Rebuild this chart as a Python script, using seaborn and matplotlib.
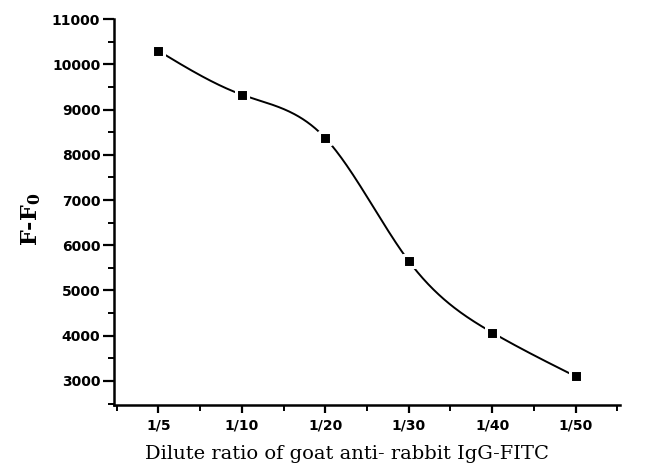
import numpy as np
import pandas as pd
import matplotlib
matplotlib.use("Agg")
import matplotlib.pyplot as plt
from matplotlib.ticker import MultipleLocator, FixedLocator
import seaborn as sns

# Dilution ratios and measured fluorescence difference
dilutions = ["1/5", "1/10", "1/20", "1/30", "1/40", "1/50"]
signal = [10300, 9330, 8370, 5650, 4070, 3100]


def natural_spline(x, y, n=400):
    """Natural cubic spline through (x, y), sampled on n points."""
    x = np.asarray(x, float)
    y = np.asarray(y, float)
    m = len(x)
    h = np.diff(x)
    A = np.zeros((m, m))
    b = np.zeros(m)
    A[0, 0] = A[-1, -1] = 1.0
    for i in range(1, m - 1):
        A[i, i - 1] = h[i - 1]
        A[i, i] = 2 * (h[i - 1] + h[i])
        A[i, i + 1] = h[i]
        b[i] = 6 * ((y[i + 1] - y[i]) / h[i] - (y[i] - y[i - 1]) / h[i - 1])
    M = np.linalg.solve(A, b)
    xs = np.linspace(x[0], x[-1], n)
    idx = np.clip(np.searchsorted(x, xs) - 1, 0, m - 2)
    x0, x1 = x[idx], x[idx + 1]
    hh = x1 - x0
    ys = (M[idx] * (x1 - xs) ** 3 / (6 * hh) + M[idx + 1] * (xs - x0) ** 3 / (6 * hh)
          + (y[idx] / hh - M[idx] * hh / 6) * (x1 - xs)
          + (y[idx + 1] / hh - M[idx + 1] * hh / 6) * (xs - x0))
    return xs, ys


pos = np.arange(len(dilutions))
xs, ys = natural_spline(pos, signal)
curve = pd.DataFrame({"x": xs, "y": ys})
points = pd.DataFrame({"x": pos, "y": signal})

sns.set_style("ticks")
fig = plt.figure(figsize=(6.56, 4.67), dpi=100)
ax = fig.add_axes([0.174, 0.133, 0.771, 0.826])

sns.lineplot(data=curve, x="x", y="y", ax=ax, color="black", linewidth=1.4)
sns.scatterplot(data=points, x="x", y="y", ax=ax, marker="s", s=75,
                color="black", edgecolor="white", linewidth=2.2, zorder=5)

ax.set_xlim(-0.53, 5.53)
ax.set_ylim(2470, 11000)
ax.xaxis.set_major_locator(FixedLocator(pos))
ax.xaxis.set_minor_locator(FixedLocator(np.arange(-0.5, 6.0, 1.0)))
ax.set_xticklabels(dilutions)
ax.yaxis.set_major_locator(MultipleLocator(1000))
ax.yaxis.set_minor_locator(MultipleLocator(500))

for side in ("top", "right"):
    ax.spines[side].set_visible(False)
for side in ("left", "bottom"):
    ax.spines[side].set_linewidth(1.8)
    ax.spines[side].set_color("black")

ax.tick_params(which="major", length=8, width=1.6, direction="out", color="black")
ax.tick_params(which="minor", length=4.5, width=1.4, direction="out", color="black")
ax.tick_params(axis="x", which="major", length=6, pad=4)
ax.tick_params(axis="y", which="major", pad=2)

for lab in ax.get_xticklabels() + ax.get_yticklabels():
    lab.set_family("DejaVu Sans")
    lab.set_fontweight("bold")
    lab.set_fontsize(10)
    lab.set_color("black")

ax.set_xlabel("Dilute ratio of goat anti- rabbit IgG-FITC", family="DejaVu Serif",
              fontsize=14, color="black")
ax.xaxis.set_label_coords(0.46, -0.105)
ax.set_ylabel(r"F-F$_{\mathbf{0}}$", family="DejaVu Serif", fontweight="bold",
              fontsize=16, color="black")
ax.yaxis.label.set_math_fontfamily("dejavuserif")
ax.yaxis.set_label_coords(-0.14, 0.48)

fig.savefig("out.png", dpi=100, facecolor="white")
